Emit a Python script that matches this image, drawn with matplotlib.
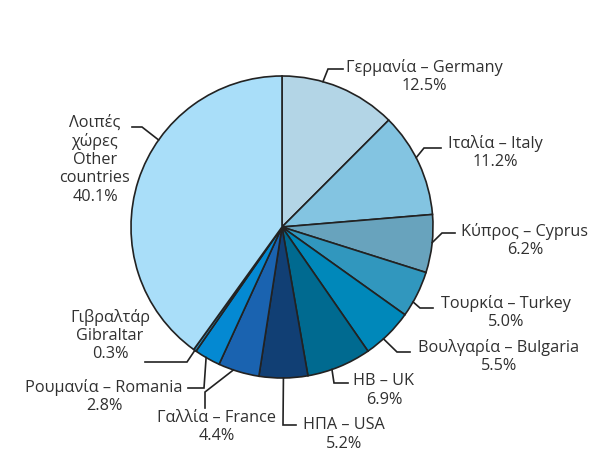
import numpy as np
import matplotlib
matplotlib.use("Agg")
import matplotlib.pyplot as plt

plt.rcParams['font.family'] = ['Open Sans', 'DejaVu Sans']

# Shares by country (%), clockwise from 12 o'clock
labels_gr = ["Γερμανία – Germany", "Ιταλία – Italy", "Κύπρος – Cyprus",
             "Τουρκία – Turkey", "Βουλγαρία – Bulgaria", "ΗΒ – UK",
             "ΗΠΑ – USA", "Γαλλία – France", "Ρουμανία – Romania",
             "Γιβραλτάρ\nGibraltar", "Λοιπές\nχώρες\nOther\ncountries"]
shares = [12.5, 11.2, 6.2, 5.0, 5.5, 6.9, 5.2, 4.4, 2.8, 0.3, 40.1]
colors = ["#b3d5e6", "#83c4e1", "#68a3bd", "#3197be", "#0088ba", "#006a90",
          "#113f74", "#1a63b0", "#0489d2", "#2a8fc0", "#a9def9"]

W, H, DPI = 593, 451, 100
CX, CY, R = 282, 227, 151  # pie centre and radius in pixels

fig = plt.figure(figsize=(W / DPI, H / DPI), dpi=DPI)
ax = fig.add_axes([0, 0, 1, 1])

wedges, _ = ax.pie(shares, colors=colors, startangle=90, counterclock=False,
                   radius=1.0, center=(0, 0),
                   wedgeprops=dict(edgecolor="#222222", linewidth=1.2))

ax.set_xlim(-CX / R, (W - CX) / R)
ax.set_ylim((CY - H) / R, CY / R)
ax.set_aspect('equal')
ax.axis('off')


def px(x, y):
    """Pixel position (from top-left) to axes data units."""
    return (x - CX) / R, (CY - y) / R


# Label layout: position inside wedge for the leader start (fraction of its angle),
# leader elbow and end (pixels), text centre (pixels)
layout = [
    (0.35, (328, 69), (343, 69), (424, 67)),
    (0.44, (424, 148), (441, 148), (495, 144)),
    (0.48, (442, 233), (455, 233), (525, 232)),
    (0.68, (420, 308), (433, 308), (506, 303)),
    (0.62, (397, 352), (410, 352), (499, 348)),
    (0.62, (334, 383), (348, 383), (384, 381)),
    (0.50, (283, 425), (296, 425), (344, 425)),
    (0.63, (205, 392), (205, 408), (217, 418)),
    (0.55, (204, 388), (188, 388), (104, 388)),
    (0.50, (187, 362), (145, 362), (110, 317)),
    (0.62, (142, 127), (132, 127), (95, 123)),
]

txt_color = "#303030"
line_h = 18.5
for w, lab, val, (frac, elbow, end, tpos) in zip(wedges, labels_gr, shares, layout):
    t1, t2 = w.theta1, w.theta2
    ang = np.deg2rad(t2 - frac * (t2 - t1))
    sx, sy = np.cos(ang), np.sin(ang)
    ex, ey = px(*elbow)
    fx, fy = px(*end)
    ax.plot([sx, ex, fx], [sy, ey, fy], color="#222222", lw=1.2,
            solid_joinstyle='miter')
    lines = lab.split("\n") + [f"{val:.1f}%"]
    for i, ln in enumerate(lines):
        x, y = px(tpos[0], tpos[1] + i * line_h)
        ax.text(x, y, ln, ha='center', va='center', fontsize=11.7,
                color=txt_color)

fig.savefig("out.png", dpi=DPI)
